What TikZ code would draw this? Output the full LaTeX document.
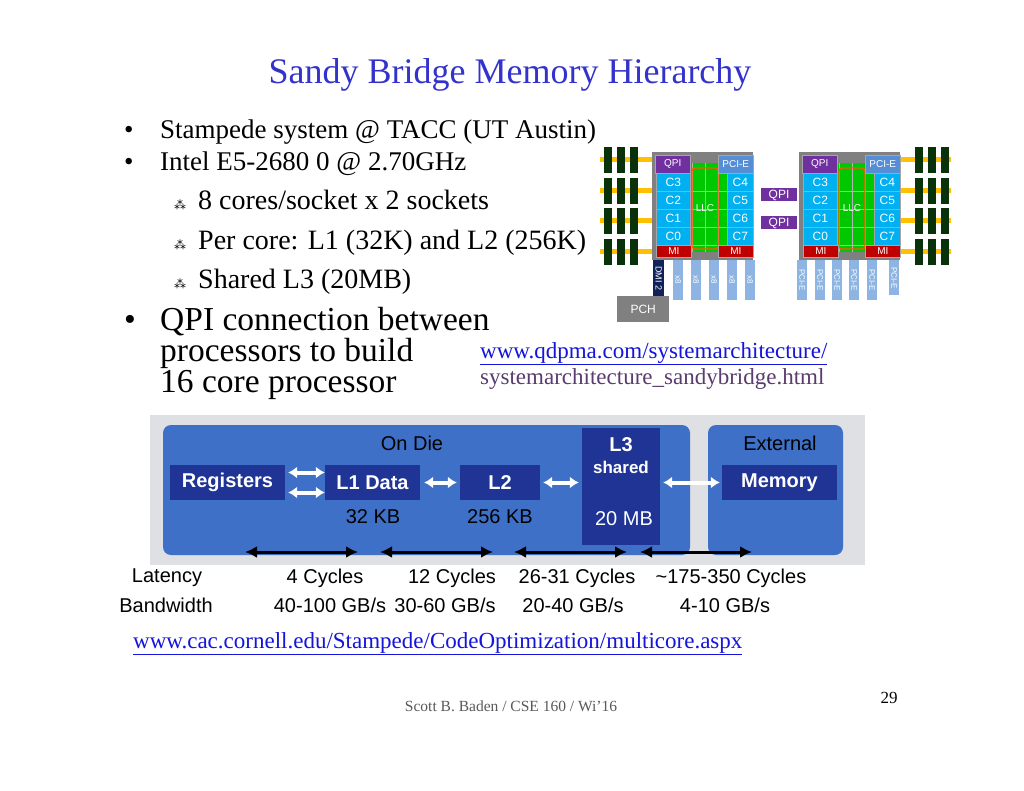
\documentclass[tikz,border=0pt]{standalone}
\usepackage{fontspec}
\setmainfont{Liberation Serif}
\newfontfamily\arial{Liberation Sans}
\newfontfamily\dejavu{DejaVu Sans}
\usetikzlibrary{arrows.meta}
\definecolor{ttl}{RGB}{51,51,204}
\definecolor{lnk}{RGB}{20,20,220}
\definecolor{gbg}{RGB}{222,224,228}
\definecolor{dieblue}{RGB}{62,112,200}
\definecolor{dkblue}{RGB}{32,52,150}
\definecolor{core}{RGB}{0,176,240}
\definecolor{llc}{RGB}{0,200,0}
\definecolor{mired}{RGB}{192,0,0}
\definecolor{qpi}{RGB}{112,48,160}
\definecolor{pcie}{RGB}{85,142,213}
\definecolor{sock}{RGB}{128,128,128}
\definecolor{dimm}{RGB}{10,50,10}
\definecolor{yel}{RGB}{255,192,0}
\definecolor{lane}{RGB}{141,180,226}
\definecolor{navy}{RGB}{15,35,90}
\definecolor{urlgray}{RGB}{90,60,110}
\tikzset{
 x=1pt,y=-1pt,
 txt/.style={anchor=base west,inner sep=0pt,font=\fontsize{27}{30}\selectfont},
 stxt/.style={anchor=base west,inner sep=0pt,font=\fontsize{28}{30}\selectfont},
 big/.style={anchor=base west,inner sep=0pt,font=\fontsize{33.5}{36}\selectfont},
 cell/.style={draw=sock!70,line width=0.6pt,font=\arial\fontsize{10}{11}\selectfont,text=white,inner sep=0pt},
 lbl/.style={font=\arial\fontsize{20}{22}\selectfont,inner sep=0pt},
 wbox/.style={fill=dkblue,text=white,font=\arial\bfseries\fontsize{20}{22}\selectfont,inner sep=0pt},
 warr/.style={{Latex[length=9pt,width=12pt]}-{Latex[length=9pt,width=12pt]},white,line width=4pt},
 barr/.style={{Latex[length=12pt,width=12pt]}-{Latex[length=12pt,width=12pt]},black,line width=3pt},
}
\newcommand{\subb}{{\dejavu\fontsize{12}{12}\selectfont ⁂}}
\begin{document}
\begin{tikzpicture}
\useasboundingbox[fill=white] (0,0) rectangle (1024,791);
\node[anchor=base,font=\fontsize{36}{40}\selectfont,text=ttl,inner sep=0pt] (title) at (510,84) {Sandy Bridge Memory Hierarchy};
% bullets
\node[txt] (b1d) at (124,139) {•};
\node[txt] (b1) at (160,139) {Stampede system @ TACC (UT Austin)};
\node[txt] (b2d) at (124,171) {•};
\node[txt] (b2) at (160,171) {Intel E5-2680 0 @ 2.70GHz};
\node[anchor=base west,inner sep=0pt] (s1d) at (174,210) {\subb};
\node[stxt] (s1) at (198,210) {8 cores/socket x 2 sockets};
\node[anchor=base west,inner sep=0pt] (s2d) at (174,250) {\subb};
\node[stxt] (s2) at (198,250) {Per core: L1 (32K) and L2 (256K)};
\node[anchor=base west,inner sep=0pt] (s3d) at (174,289) {\subb};
\node[stxt] (s3) at (198,289) {Shared L3 (20MB)};
\node[big] (b3d) at (124,330) {•};
\node[big] (b3) at (160,330) {QPI connection between};
\node[big] (b3b) at (160,361) {processors to build};
\node[big] (b3c) at (160,392) {16 core processor};
\node[anchor=base west,inner sep=0pt,font=\fontsize{23}{25}\selectfont,text=lnk] (u1) at (480,358) {\underline{www.qdpma.com/systemarchitecture/}};
\node[anchor=base west,inner sep=0pt,font=\fontsize{23}{25}\selectfont,text=urlgray] (u2) at (480,384) {systemarchitecture\_sandybridge.html};
% ---- processor diagram
\foreach \y in {147,178,208,239}{
  \fill[yel] (600,\y+10.5) rectangle (652,\y+15);
  \fill[yel] (901,\y+10.5) rectangle (951,\y+15);
  \foreach \x in {604,617,630,915,928,941}{\fill[dimm] (\x,\y) rectangle (\x+8,\y+26);}
}
\foreach \o/\n in {0/L,147/R}{
  \begin{scope}[xshift=\o]
  \fill[sock] (652,152) rectangle (753,260);
  \node[fill=llc,minimum width=44,minimum height=89,anchor=north west,inner sep=0pt] (llc\n) at (683,163) {};
  \draw[sock!60,line width=0.4pt] (692,163) -- (692,252) (705,163)--(705,252) (718,163)--(718,252);
  \foreach \yy in {191,209,227,245}{\draw[sock!60,line width=0.4pt] (683,\yy)--(727,\yy);}
  \draw[orange!70!red,line width=1.2pt,rounded corners=3pt] (692,168) rectangle (718,249);
  \node[font=\arial\fontsize{10}{11}\selectfont,text=white] (llct\n) at (705,208) {LLC};
  \node[cell,fill=qpi,minimum width=35,minimum height=18,anchor=north west] (q\n) at (655,155) {QPI};
  \node[cell,fill=pcie,minimum width=35,minimum height=18,anchor=north west] (p\n) at (718,155) {PCI-E};
  \node[cell,fill=mired,minimum width=35,minimum height=12,anchor=north west] (ma\n) at (656,245) {MI};
  \node[cell,fill=mired,minimum width=35,minimum height=12,anchor=north west] (mb\n) at (718,245) {MI};
  \foreach \c/\d/\yy in {3/4/173,2/5/191,1/6/209,0/7/227}{
    \node[cell,fill=core,minimum width=34,minimum height=18,anchor=north west,font=\arial\fontsize{12}{13}\selectfont] (c\c\n) at (656,\yy) {C\c};
    \node[cell,fill=core,minimum width=26,minimum height=18,anchor=north west,font=\arial\fontsize{12}{13}\selectfont] (c\d\n) at (727,\yy) {C\d};
  }
  \end{scope}
}
\node[fill=qpi,text=white,font=\arial\fontsize{12}{13}\selectfont,minimum width=36,minimum height=13,inner sep=0pt] (qpi1) at (779,195) {QPI};
\node[fill=qpi,text=white,font=\arial\fontsize{12}{13}\selectfont,minimum width=36,minimum height=13,inner sep=0pt] (qpi2) at (779,223) {QPI};
\node[fill=navy,minimum width=11,minimum height=36,anchor=north west,inner sep=0pt] (dmi) at (653,260) {};
\node[rotate=-90,text=white,font=\arial\fontsize{9}{10}\selectfont] at (dmi.center) {DMI 2};
\foreach \x/\i in {673/1,691/2,709/3,727/4,745/5}{
  \node[fill=lane,minimum width=10,minimum height=40,anchor=north west,inner sep=0pt] (x\i) at (\x,260) {};
  \node[rotate=-90,text=white,font=\arial\fontsize{8}{9}\selectfont] at (x\i.center) {x8};
}
\foreach \x/\i/\h in {797/1/40,815/2/40,832/3/40,849/4/40,867/5/40,889/6/35}{
  \node[fill=lane,minimum width=10,minimum height=\h,anchor=north west,inner sep=0pt] (pe\i) at (\x,260) {};
  \node[rotate=-90,text=white,font=\arial\fontsize{8}{9}\selectfont] at (pe\i.center) {PCI-E};
}
\node[fill=sock,text=white,font=\arial\fontsize{12}{13}\selectfont,minimum width=52,minimum height=26,anchor=north west,inner sep=0pt] (pch) at (617,296) {PCH};
% ---- memory hierarchy
\fill[gbg] (150,415) rectangle (865,565);
\fill[dieblue,rounded corners=8pt] (163,425) rectangle (690,555);
\fill[dieblue,rounded corners=8pt] (708,425) rectangle (843,555);
\node[lbl] (ondie) at (412,443) {On Die};
\node[lbl] (ext) at (780,443) {External};
\node[wbox,minimum width=115,minimum height=35] (reg) at (227.5,482.5) {Registers};
\node[wbox,minimum width=95,minimum height=35] (l1) at (372.5,482.5) {L1 Data};
\node[wbox,minimum width=80,minimum height=35] (l2) at (500,482.5) {L2};
\node[fill=dkblue,minimum width=78,minimum height=117,inner sep=0pt] (l3) at (621,486.5) {};
\node[wbox,fill=none] (l3a) at (621,445) {L3};
\node[wbox,fill=none,font=\arial\bfseries\fontsize{17}{19}\selectfont] (l3b) at (621,467) {shared};
\node[lbl,text=white] (l3c) at (624,519) {20 MB};
\node[wbox,minimum width=115,minimum height=35] (mem) at (779.5,482.5) {Memory};
\node[lbl] (k32) at (373,517) {32 KB};
\node[lbl] (k256) at (500,517) {256 KB};
\draw[warr] ([xshift=3,yshift=-10]reg.east) -- ([yshift=-10]l1.west);
\draw[warr] ([xshift=3,yshift=10]reg.east) -- ([yshift=10]l1.west);
\draw[warr] ([xshift=4]l1.east) -- ([xshift=-3]l2.west);
\draw[warr] ([xshift=3]l2.east) -- ([xshift=-3]l3.west |- l2.east);
\draw[warr] ([xshift=3]l3.east |- mem.west) -- ([xshift=-2]mem.west);
\coordinate (a1) at (245,552); \coordinate (a2) at (358,552);
\coordinate (a3) at (380,552); \coordinate (a4) at (493,552);
\coordinate (a5) at (514,552); \coordinate (a6) at (627,552);
\coordinate (a7) at (640,552); \coordinate (a8) at (752,552);
\draw[barr] (a1)--(a2); \draw[barr] (a3)--(a4); \draw[barr] (a5)--(a6); \draw[barr] (a7)--(a8);
\foreach \t/\x/\y in {{Latency}/167/578,{4 Cycles}/325/578,{12 Cycles}/452/578,{26-31 Cycles}/577/578,{\textasciitilde175-350 Cycles}/731/578,{Bandwidth}/166/605,{40-100 GB/s}/330/605,{30-60 GB/s}/445/605,{20-40 GB/s}/573/605,{4-10 GB/s}/725/605}
  \node[lbl] at (\x,\y) {\t};
\node[anchor=base west,inner sep=0pt,font=\fontsize{23}{25}\selectfont,text=lnk] (u3) at (133,648) {\underline{www.cac.cornell.edu/Stampede/CodeOptimization/multicore.aspx}};
\node[anchor=base,inner sep=0pt,font=\fontsize{15.5}{17}\selectfont,text=black!65] (foot) at (511,711) {Scott B. Baden / CSE 160 / Wi’16};
\node[anchor=base,inner sep=0pt,font=\fontsize{17}{19}\selectfont] (pg) at (889,703) {29};
\end{tikzpicture}
\end{document}
